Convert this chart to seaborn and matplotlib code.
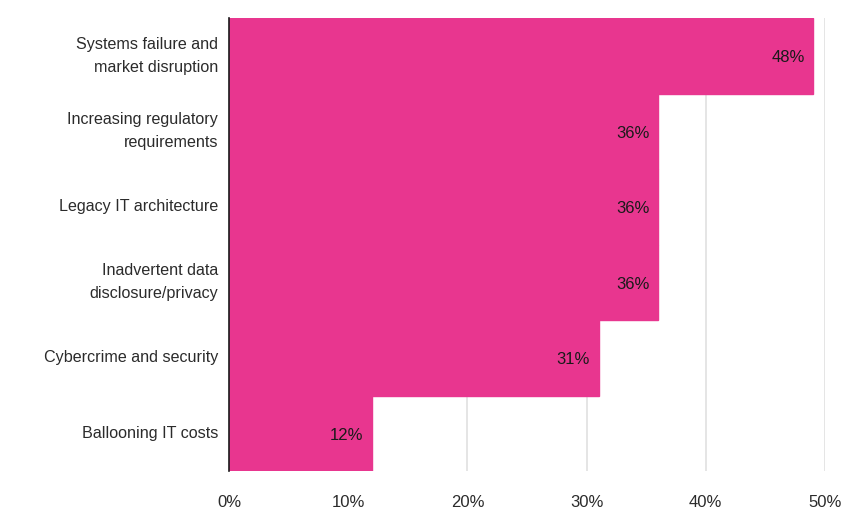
import matplotlib
matplotlib.use('Agg')
import matplotlib.pyplot as plt
import seaborn as sns
import pandas as pd

categories = [
    'Systems failure and\nmarket disruption',
    'Increasing regulatory\nrequirements',
    'Legacy IT architecture',
    'Inadvertent data\ndisclosure/privacy',
    'Cybercrime and security',
    'Ballooning IT costs',
]
values = [49, 36, 36, 36, 31, 12]
value_labels = ['48%', '36%', '36%', '36%', '31%', '12%']
x_ticks = [0, 10, 20, 30, 40, 50]
x_tick_labels = ['0%', '10%', '20%', '30%', '40%', '50%']

sns.set_theme(style='white')
plt.rcParams['font.family'] = ['Liberation Sans', 'DejaVu Sans']

df = pd.DataFrame({'risk': categories, 'share': values})

fig = plt.figure(figsize=(8.65, 5.12), dpi=100)
ax = fig.add_axes([229 / 865, 1 - 471 / 512, (825 - 229) / 865, (471 - 18) / 512])

sns.barplot(data=df, x='share', y='risk', orient='h', width=1.0,
            color='#E8368F', saturation=1, ax=ax, zorder=2,
            edgecolor='#E8368F', linewidth=1.0)

ax.set_xlim(0, 50)
ax.set_ylim(5.5, -0.5)
ax.set_xticks(x_ticks)
ax.set_xticklabels(x_tick_labels)
ax.set_xlabel('')
ax.set_ylabel('')

ax.grid(axis='x', color='#e3e3e3', linewidth=1.3, zorder=0)
ax.set_axisbelow(True)
for s in ['top', 'right', 'bottom']:
    ax.spines[s].set_visible(False)
ax.spines['left'].set_color('#1a1a1a')
ax.spines['left'].set_linewidth(1.2)
ax.spines['left'].set_zorder(3)

ax.tick_params(axis='y', length=0, pad=8, labelsize=11.6, labelcolor='#2b2b2b')
ax.tick_params(axis='x', length=0, pad=17, labelsize=12, labelcolor='#2b2b2b')
for lbl in ax.get_yticklabels():
    lbl.set_linespacing(1.65)
    lbl.set_horizontalalignment('right')
    lbl.set_verticalalignment('center')

# value labels sit just inside the bar end
for i, (v, lab) in enumerate(zip(values, value_labels)):
    ax.annotate(lab, xy=(v, i), xytext=(-6, -1.5), textcoords='offset points',
                ha='right', va='center', fontsize=12, color='#1a1a1a', zorder=4)

fig.savefig('out.png', dpi=100)
